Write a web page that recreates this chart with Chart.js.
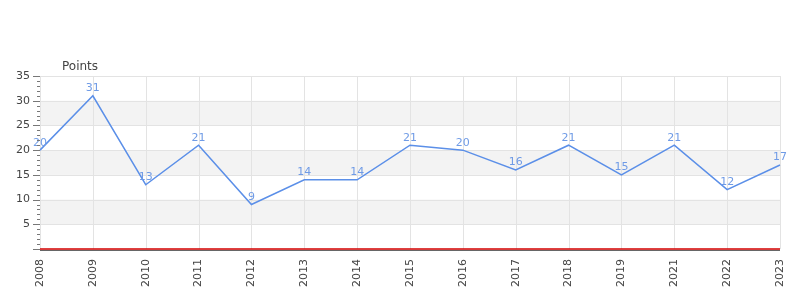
<!DOCTYPE html>
<html><head><meta charset="utf-8">
<script src="https://cdn.jsdelivr.net/npm/chart.js@4/dist/chart.umd.min.js"></script>
<style>html,body{margin:0;padding:0;background:#fff}#wrap{width:800px;height:300px}</style>
</head><body><div id="wrap"><canvas id="c" width="800" height="300"></canvas></div>
<script>
const categories = ['2008','2009','2010','2011','2012','2013','2014','2015','2016','2017','2018','2019','2021','2022','2023'];
const points = [20,31,13,21,9,14,14,21,20,16,21,15,21,12,17];
const yTitle = 'Points';
const bands = [[5,10],[15,20],[25,30]];

const FONT = 'DejaVu Sans';
const extras = {
  id: 'extras',
  beforeDatasetsDraw(chart) {
    const {ctx, chartArea: a, scales: {y}} = chart;
    ctx.save();
    ctx.fillStyle = '#f3f3f3';
    bands.forEach(([lo, hi]) => {
      const t = y.getPixelForValue(hi), b = y.getPixelForValue(lo);
      ctx.fillRect(a.left, t, a.right - a.left, b - t);
    });
    ctx.strokeStyle = '#e3e3e3'; ctx.lineWidth = 1;
    y.ticks.forEach(tk => {
      const py = Math.round(y.getPixelForValue(tk.value)) + 0.5;
      ctx.beginPath(); ctx.moveTo(a.left, py); ctx.lineTo(a.right, py); ctx.stroke();
    });
    const x = chart.scales.x;
    categories.forEach((c, i) => {
      const px = Math.round(x.getPixelForValue(i)) + 0.5;
      ctx.beginPath(); ctx.moveTo(px, a.top); ctx.lineTo(px, a.bottom); ctx.stroke();
    });
    ctx.restore();
  },
  afterDatasetsDraw(chart) {
    const {ctx, chartArea: a, scales: {y}} = chart;
    ctx.save();
    const meta = chart.getDatasetMeta(0);
    ctx.font = '11px "' + FONT + '"';
    ctx.fillStyle = '#6f9be6';
    ctx.textAlign = 'center';
    ctx.textBaseline = 'bottom';
    meta.data.forEach((pt, i) => {
      ctx.fillText(String(points[i]), pt.x, pt.y - 2);
    });
    const py = y.getPixelForValue(0);
    ctx.strokeStyle = '#666'; ctx.lineWidth = 1;
    ctx.beginPath(); ctx.moveTo(a.left, py + 1.5); ctx.lineTo(a.right, py + 1.5); ctx.stroke();
    ctx.strokeStyle = '#d40000'; ctx.lineWidth = 1.5;
    ctx.beginPath(); ctx.moveTo(a.left, py); ctx.lineTo(a.right, py); ctx.stroke();
    ctx.strokeStyle = '#777'; ctx.lineWidth = 1;
    for (let v = 0; v <= 35; v++) {
      const ty = Math.round(y.getPixelForValue(v)) + 0.5;
      const len = (v % 5 === 0) ? 7 : 3;
      ctx.beginPath(); ctx.moveTo(a.left - len, ty); ctx.lineTo(a.left, ty); ctx.stroke();
    }
    ctx.font = '12px "' + FONT + '"';
    ctx.fillStyle = '#444';
    ctx.textAlign = 'left';
    ctx.textBaseline = 'alphabetic';
    ctx.fillText(yTitle, 62, 70);
    ctx.restore();
  }
};

new Chart(document.getElementById('c'), {
  type: 'line',
  data: { labels: categories, datasets: [{ data: points, borderColor: '#5b8fe8', borderWidth: 1.5, pointRadius: 0, tension: 0, fill: false }] },
  options: {
    responsive: false, animation: false,
    layout: { padding: { top: 76, right: 20, left: 0, bottom: 0 } },
    plugins: { legend: { display: false }, tooltip: { enabled: false } },
    scales: {
      x: {
        type: 'category', offset: false,
        grid: { display: false, drawTicks: false },
        border: { display: false },
        ticks: { minRotation: 90, maxRotation: 90, padding: 10, color: '#444', font: { family: FONT, size: 11 }, autoSkip: false },
        afterFit(s) { s.height = 51; s.paddingRight = 0; s.paddingLeft = 0; }
      },
      y: {
        min: 0, max: 35,
        grid: { display: false, drawTicks: false },
        border: { display: true, color: '#888' },
        ticks: { stepSize: 5, padding: 10, color: '#444', font: { family: FONT, size: 11 }, callback: v => v === 0 ? '' : v },
        afterFit(s) { s.width = 40; }
      }
    }
  },
  plugins: [extras]
});
</script></body></html>
